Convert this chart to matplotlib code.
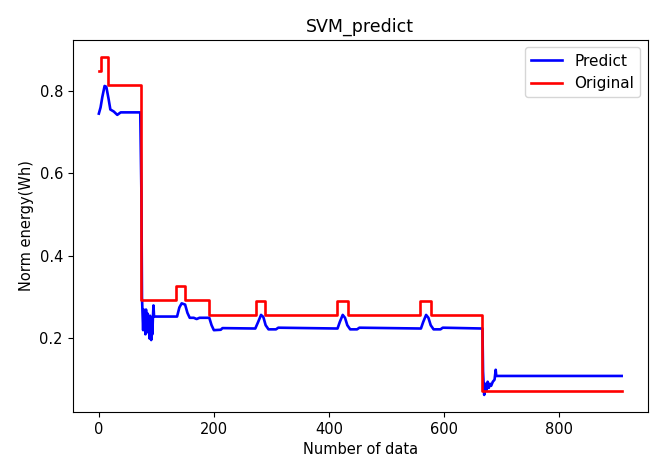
import matplotlib
matplotlib.use("Agg")
import matplotlib.pyplot as plt

# Original: step change points (value holds until next x)
orig_x = [0, 4, 16, 73, 134, 150, 192, 273, 289, 414, 433, 559, 578, 667, 909]
orig_y = [0.849, 0.883, 0.814, 0.293, 0.327, 0.293, 0.256, 0.290, 0.256,
          0.290, 0.256, 0.290, 0.256, 0.072, 0.072]

# Predict: points
pred_x = [0, 3, 6, 10, 13, 17, 20, 26, 32, 38, 72, 74, 75, 76, 77, 78, 79, 80,
          81, 82, 83, 84, 85, 86, 87, 88, 89, 90, 91, 92, 93, 94, 95, 96,
          136, 140, 144, 150, 154, 158, 165, 170, 175, 192, 196, 200, 212, 215,
          272, 277, 282, 286, 290, 295, 308, 312,
          415, 419, 424, 428, 432, 437, 449, 453,
          560, 564, 569, 573, 577, 582, 594, 598,
          667, 668, 670, 672, 674, 676, 678, 680, 682, 685, 688, 690, 691, 909]
pred_y = [0.745, 0.76, 0.785, 0.812, 0.81, 0.78, 0.755, 0.75, 0.742, 0.748,
          0.748, 0.55, 0.30, 0.26, 0.22, 0.27, 0.23, 0.25, 0.21, 0.27, 0.24,
          0.215, 0.26, 0.22, 0.24, 0.20, 0.255, 0.23, 0.196, 0.24, 0.21, 0.25,
          0.28, 0.253,
          0.253, 0.275, 0.285, 0.282, 0.262, 0.25, 0.25, 0.247, 0.25, 0.25,
          0.232, 0.22, 0.221, 0.225,
          0.224, 0.24, 0.257, 0.252, 0.232, 0.222, 0.222, 0.226,
          0.224, 0.24, 0.257, 0.25, 0.232, 0.222, 0.222, 0.226,
          0.224, 0.24, 0.257, 0.25, 0.232, 0.222, 0.222, 0.226,
          0.224, 0.12, 0.063, 0.09, 0.075, 0.095, 0.08, 0.09, 0.085, 0.095,
          0.10, 0.124, 0.109, 0.109]

plt.rcParams['font.size'] = 10.5
fig = plt.figure(figsize=(6.55, 4.68), dpi=100)
ax = fig.add_axes([0.111, 0.12, 0.878, 0.795])

ax.plot(pred_x, pred_y, color='blue', lw=1.9, label='Predict')
ax.plot(orig_x, orig_y, color='red', lw=1.9, drawstyle='steps-post', label='Original')

ax.set_title('SVM_predict', fontsize=12.5)
ax.set_xlabel('Number of data')
ax.set_ylabel('Norm energy(Wh)')
ax.set_xticks([0, 200, 400, 600, 800])
ax.set_yticks([0.2, 0.4, 0.6, 0.8])
ax.legend(loc='upper right', fontsize=11)

fig.savefig('out.png', dpi=100)
